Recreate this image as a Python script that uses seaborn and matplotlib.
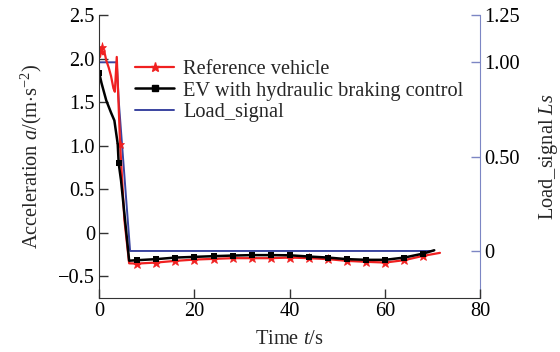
import matplotlib
matplotlib.use("Agg")
import matplotlib.pyplot as plt
from matplotlib.lines import Line2D
import numpy as np
import pandas as pd
import seaborn as sns

# Reference vehicle deceleration record
ref_t = [0.2, 0.5, 0.8, 1.1, 1.5, 2.0, 2.5, 3.0, 3.3, 3.7, 4.4, 5.3, 6.3,
         8, 12, 16, 20, 24, 28, 32, 36, 40, 44, 48, 52, 56, 60, 64, 68, 71.5]
ref_a = [2.02, 2.13, 2.05, 2.08, 1.98, 1.90, 1.80, 1.66, 1.62, 2.02, 1.02, 0.15, -0.35,
         -0.353, -0.341, -0.322, -0.307, -0.299, -0.291, -0.291, -0.291, -0.284,
         -0.291, -0.302, -0.322, -0.333, -0.341, -0.314, -0.264, -0.23]
ref_marker_t = [0.5, 4.4, 8, 12, 16, 20, 24, 28, 32, 36, 40, 44, 48, 52, 56, 60, 64, 68]

# EV with hydraulic braking control
ev_t = [0, 0.5, 1.5, 2.5, 3.2, 3.9, 4.1, 4.6, 6.3,
        8, 12, 16, 20, 24, 28, 32, 36, 40, 44, 48, 52, 56, 60, 64, 68, 70.3]
ev_a = [1.84, 1.72, 1.52, 1.38, 1.29, 1.02, 0.80, 0.60, -0.32,
        -0.314, -0.302, -0.284, -0.276, -0.268, -0.261, -0.256, -0.256, -0.258,
        -0.272, -0.284, -0.302, -0.31, -0.31, -0.284, -0.238, -0.20]
ev_marker_t = [0, 4.1, 8, 12, 16, 20, 24, 28, 32, 36, 40, 44, 48, 52, 56, 60, 64, 68]

# Load signal
load_t = [0, 3.7, 4.1, 6.5, 70]
load_v = [1, 1, 0.8, 0, 0]

x_ticks = [0, 20, 40, 60, 80]
left_ticks = [-0.5, 0, 0.5, 1.0, 1.5, 2.0, 2.5]
left_labels = ["\u22120.5", "0", "0.5", "1.0", "1.5", "2.0", "2.5"]
right_ticks = [0, 0.5, 1.0, 1.25]
right_labels = ["0", "0.50", "1.00", "1.25"]

RED = "#f02020"
BLACK = "#000000"
BLUE = "#3a44a0"
SPINE_BLUE = "#7c86c4"
FS = 14.7

sns.set_style("ticks")
plt.rcParams["font.family"] = ["Liberation Serif", "DejaVu Serif"]
plt.rcParams["mathtext.fontset"] = "custom"
plt.rcParams["mathtext.rm"] = "Liberation Serif"
plt.rcParams["mathtext.it"] = "Liberation Serif:italic"
plt.rcParams["font.size"] = FS

ref_df = pd.DataFrame({"t": ref_t, "a": ref_a})
ev_df = pd.DataFrame({"t": ev_t, "a": ev_a})
load_df = pd.DataFrame({"t": load_t, "v": load_v})

fig = plt.figure(figsize=(5.6, 3.52), dpi=100)
ax = fig.add_axes([0.177, 0.153, 0.681, 0.804])
ax2 = ax.twinx()

ref_idx = [i for i, t in enumerate(ref_t) if t in ref_marker_t]
ev_idx = [i for i, t in enumerate(ev_t) if t in ev_marker_t]

sns.lineplot(data=load_df, x="t", y="v", ax=ax2, color=BLUE, linewidth=1.4,
             sort=False, estimator=None)
sns.lineplot(data=ref_df, x="t", y="a", ax=ax, color=RED, linewidth=1.6,
             marker="*", markersize=6.5, markevery=ref_idx, markeredgewidth=0.5,
             markeredgecolor=RED, sort=False, estimator=None)
sns.lineplot(data=ev_df, x="t", y="a", ax=ax, color=BLACK, linewidth=1.8,
             marker="s", markersize=4.5, markevery=ev_idx, markeredgewidth=0,
             sort=False, estimator=None)

ax.set_zorder(ax2.get_zorder() + 1)
ax.patch.set_visible(False)

ax.set_xlim(0, 80)
ax.set_ylim(-0.75, 2.5)
ax2.set_ylim(-0.25, 1.25)
ax.set_xticks(x_ticks)
ax.set_xticklabels([str(v) for v in x_ticks])
ax.set_yticks(left_ticks)
ax.set_yticklabels(left_labels)
ax2.set_yticks(right_ticks)
ax2.set_yticklabels(right_labels)

ax.tick_params(direction="in", length=6.5, width=1, colors="#333333",
               labelcolor="black", labelsize=FS, pad=3)
ax2.tick_params(axis="y", direction="in", length=6.5, width=1,
                colors=SPINE_BLUE, labelcolor="black", labelsize=FS, pad=3)

for side in ("top", "right"):
    ax.spines[side].set_visible(False)
ax2.spines["top"].set_visible(False)
ax2.spines["left"].set_visible(False)
ax2.spines["bottom"].set_visible(False)
ax2.spines["right"].set_color(SPINE_BLUE)
ax.spines["left"].set_color("#333333")
ax.spines["bottom"].set_color("#333333")

ax.set_xlabel("Time $t$/s", fontsize=FS, labelpad=6)
ax.set_ylabel("Acceleration $a$/(m$\\cdot$s$^{-2}$)", fontsize=FS, labelpad=10)
ax2.set_ylabel("Load_signal $Ls$", fontsize=FS, labelpad=12)

handles = [
    Line2D([], [], color=RED, linewidth=1.6, marker="*", markersize=6.5),
    Line2D([], [], color=BLACK, linewidth=1.8, marker="s", markersize=4.5),
    Line2D([], [], color=BLUE, linewidth=1.4),
]
labels = ["Reference vehicle", "EV with hydraulic braking control", "Load_signal"]
ax.legend(handles, labels, loc="upper left", bbox_to_anchor=(0.095, 0.843),
          frameon=False, fontsize=FS, handlelength=1.9, handletextpad=0.45,
          labelspacing=0.12, borderaxespad=0, borderpad=0)

fig.savefig("out.png", dpi=100)
